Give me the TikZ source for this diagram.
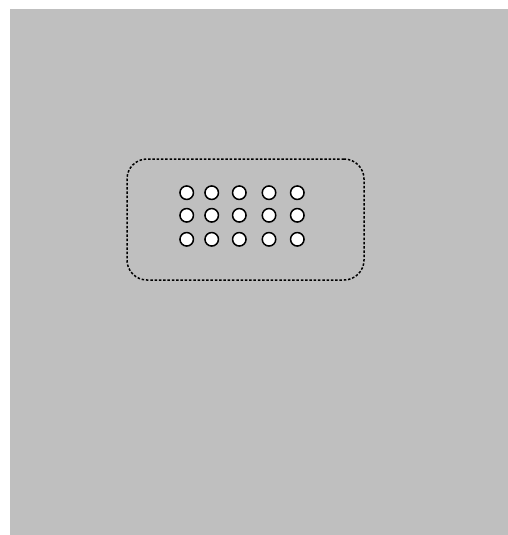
\documentclass[tikz,border=0pt]{standalone}
\usepackage{tikz}
\usetikzlibrary{positioning}

\begin{document}
\begin{tikzpicture}[
  x=1pt, y=-1pt,
  canvas/.style={fill=black!25, draw=none},
  group/.style={draw, line width=1.5pt, dash pattern=on 2.5pt off 1.8pt, rounded corners=20pt},
  dot/.style={circle, draw, line width=1.5pt, fill=white, minimum size=13.5pt, inner sep=0pt}
]

% Page frame and grey canvas
\useasboundingbox (0,0) rectangle (508,535);
\fill[canvas] (10,9) rectangle (508,535);

% Dashed group box
\node[group, minimum width=237pt, minimum height=121pt] (box) at (245.5,219.5) {};

% Grid of dots
\foreach \c/\x in {1/186.7, 2/211.7, 3/239.3, 4/269, 5/297.3} {
  \foreach \r/\y in {1/192.7, 2/215.3, 3/239.3} {
    \node[dot] (dot-\r-\c) at (\x,\y) {};
  }
}

\end{tikzpicture}
\end{document}
